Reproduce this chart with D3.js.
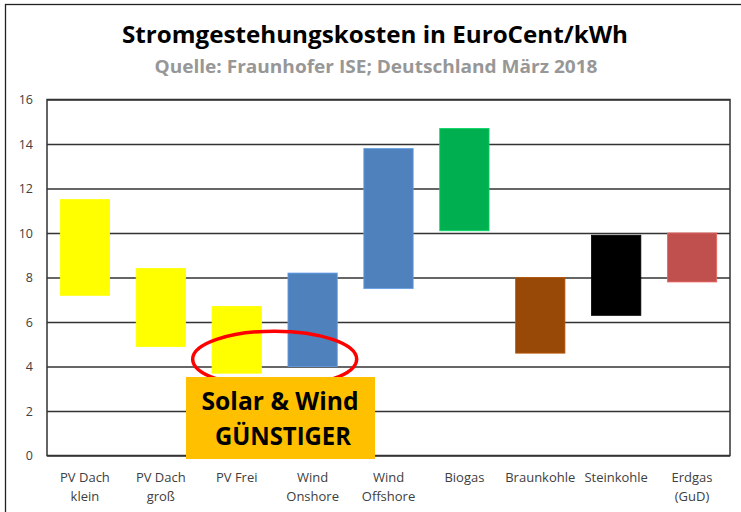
<!DOCTYPE html>
<html>
<head>
<meta charset="utf-8">
<script src="https://cdn.jsdelivr.net/npm/d3@7"></script>
<style>
  body { margin: 0; background: #fff; }
  svg { display: block; font-family: "Open Sans", "DejaVu Sans", sans-serif; }
</style>
</head>
<body>
<div id="chart"></div>
<script>
(function() {
"use strict";

// data (EuroCent/kWh, min / max)
const categories = ["PV Dach klein", "PV Dach groß", "PV Frei", "Wind Onshore", "Wind Offshore",
                    "Biogas", "Braunkohle", "Steinkohle", "Erdgas (GuD)"];
const labelLines = [["PV Dach", "klein"], ["PV Dach", "groß"], ["PV Frei"], ["Wind", "Onshore"],
                    ["Wind", "Offshore"], ["Biogas"], ["Braunkohle"], ["Steinkohle"], ["Erdgas", "(GuD)"]];
const lowValues  = [7.2, 4.9, 3.7, 4.0, 7.5, 10.1, 4.6, 6.3, 7.8];
const highValues = [11.5, 8.4, 6.7, 8.2, 13.8, 14.7, 8.0, 9.9, 10.0];
const barColors  = ["#ffff00", "#ffff00", "#ffff00", "#4f81bd", "#4f81bd",
                    "#00b050", "#984807", "#000000", "#c0504d"];
const yTicks = [0, 2, 4, 6, 8, 10, 12, 14, 16];

const W = 741, H = 512;
const plot = { left: 47, right: 730, top: 99.5, bottom: 455.5 };

const svg = d3.select("#chart").append("svg")
              .attr("width", W)
              .attr("height", H);

// outer frame (right/bottom edges fall outside the window)
svg.append("rect")
   .attr("x", 5.5).attr("y", 4.5)
   .attr("width", W + 10).attr("height", H + 10)
   .attr("fill", "none")
   .attr("stroke", "#222")
   .attr("stroke-width", 1.3);

const x = d3.scaleBand()
            .domain(categories)
            .range([plot.left, plot.right])
            .paddingInner(0.35)
            .paddingOuter(0.175);

const y = d3.scaleLinear()
            .domain([0, 16])
            .range([plot.bottom, plot.top]);

// titles
svg.append("text")
   .attr("x", 375).attr("y", 43)
   .attr("text-anchor", "middle")
   .attr("font-size", 24).attr("font-weight", "bold")
   .attr("fill", "#000")
   .attr("textLength", 506).attr("lengthAdjust", "spacingAndGlyphs")
   .text("Stromgestehungskosten in EuroCent/kWh");

svg.append("text")
   .attr("x", 376).attr("y", 73)
   .attr("text-anchor", "middle")
   .attr("font-size", 18).attr("font-weight", "bold")
   .attr("fill", "#979797")
   .attr("textLength", 443).attr("lengthAdjust", "spacingAndGlyphs")
   .text("Quelle: Fraunhofer ISE; Deutschland März 2018");

// gridlines + y labels
const yAxis = d3.axisLeft(y)
                .tickValues(yTicks)
                .tickSize(-(plot.right - plot.left))
                .tickPadding(14);

svg.append("g")
   .attr("transform", `translate(${plot.left},0)`)
   .call(yAxis)
   .call(g => g.select(".domain").remove())
   .call(g => g.selectAll(".tick line").attr("stroke", "#333").attr("stroke-width", 1.5))
   .call(g => g.selectAll(".tick text")
               .attr("font-size", 12.5)
               .attr("font-family", "Open Sans, sans-serif")
               .attr("fill", "#404040"));

// plot frame
svg.append("rect")
   .attr("x", plot.left).attr("y", plot.top)
   .attr("width", plot.right - plot.left)
   .attr("height", plot.bottom - plot.top)
   .attr("fill", "none")
   .attr("stroke", "#333")
   .attr("stroke-width", 1.5);

// floating bars
svg.append("g")
   .selectAll("rect")
   .data(categories)
   .enter()
   .append("rect")
   .attr("x", d => x(d))
   .attr("width", x.bandwidth())
   .attr("y", (d, i) => y(highValues[i]))
   .attr("height", (d, i) => y(lowValues[i]) - y(highValues[i]))
   .attr("fill", (d, i) => barColors[i])
   .attr("stroke", (d, i) => d3.color(barColors[i]).brighter(0.6))
   .attr("stroke-width", 0.8);

// category labels
const xLabels = svg.append("g")
                   .selectAll("text")
                   .data(categories)
                   .enter()
                   .append("text")
                   .attr("text-anchor", "middle")
                   .attr("font-size", 13)
                   .attr("fill", "#404040")
                   .attr("x", d => x(d) + x.bandwidth() / 2)
                   .attr("y", 482);

xLabels.selectAll("tspan")
       .data((d, i) => labelLines[i])
       .enter()
       .append("tspan")
       .attr("x", function() { return this.parentNode.getAttribute("x"); })
       .attr("dy", (d, j) => j === 0 ? 0 : 19)
       .text(d => d);

// annotation: highlight ellipse + box
const cxMid = (x("PV Frei") + x("Wind Onshore") + x.bandwidth()) / 2;

svg.append("ellipse")
   .attr("cx", cxMid)
   .attr("cy", y(4.33))
   .attr("rx", 82)
   .attr("ry", 28)
   .attr("fill", "none")
   .attr("stroke", "#ff0000")
   .attr("stroke-width", 3.5);

svg.append("rect")
   .attr("x", 186).attr("y", 377)
   .attr("width", 189).attr("height", 82)
   .attr("fill", "#ffc000");

svg.append("text")
   .attr("x", 280).attr("y", 410)
   .attr("text-anchor", "middle")
   .attr("font-size", 25).attr("font-weight", "bold")
   .attr("fill", "#000")
   .attr("textLength", 157).attr("lengthAdjust", "spacingAndGlyphs")
   .text("Solar & Wind");

svg.append("text")
   .attr("x", 283).attr("y", 445)
   .attr("text-anchor", "middle")
   .attr("font-size", 25).attr("font-weight", "bold")
   .attr("fill", "#000")
   .attr("textLength", 136).attr("lengthAdjust", "spacingAndGlyphs")
   .text("GÜNSTIGER");

})();
</script>
</body>
</html>
